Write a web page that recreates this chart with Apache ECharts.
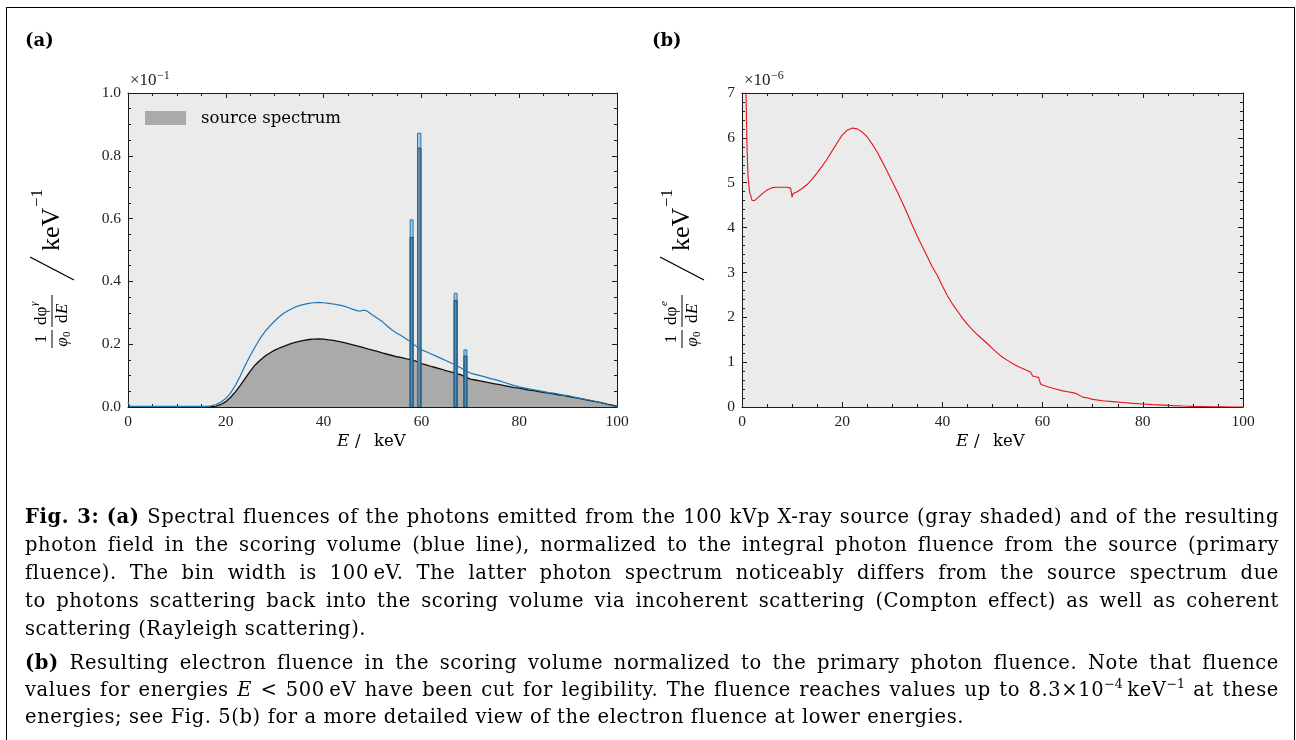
<!DOCTYPE html>
<html><head><meta charset="utf-8">
<script src="https://cdn.jsdelivr.net/npm/echarts@6/dist/echarts.min.js"></script>
<style>
html,body{margin:0;padding:0;background:#fff;}
#wrap{position:relative;width:1296px;height:740px;overflow:hidden;background:#fff;}
#chart{position:absolute;left:0;top:0;width:1296px;height:740px;}
#frame{position:absolute;left:6px;top:7px;width:1289px;height:800px;border:1.5px solid #000;box-sizing:border-box;pointer-events:none;}
#cap{position:absolute;left:25px;top:0;width:1254px;height:740px;font-family:'DejaVu Serif',serif;font-size:19.5px;letter-spacing:0.6px;color:#000;}
.ln{position:absolute;left:0;width:1254px;text-align:justify;text-align-last:justify;line-height:28px;height:28px;white-space:normal;}
.ln.last{text-align-last:left;}
.ln sup{font-size:12.5px;vertical-align:0;position:relative;top:-8px;letter-spacing:0;}
</style>
</head><body>
<div id="wrap">
<div id="chart"></div>
<div id="frame"></div>
<div id="cap">
<div class="ln" style="top:503px"><b>Fig. 3:</b> <b>(a)</b> Spectral fluences of the photons emitted from the 100 kVp X-ray source (gray shaded) and of the resulting</div>
<div class="ln" style="top:531px">photon field in the scoring volume (blue line), normalized to the integral photon fluence from the source (primary</div>
<div class="ln" style="top:559px">fluence). The bin width is 100&#8201;eV. The latter photon spectrum noticeably differs from the source spectrum due</div>
<div class="ln" style="top:587px">to photons scattering back into the scoring volume via incoherent scattering (Compton effect) as well as coherent</div>
<div class="ln last" style="top:615px">scattering (Rayleigh scattering).</div>
<div class="ln" style="top:649px"><b>(b)</b> Resulting electron fluence in the scoring volume normalized to the primary photon fluence. Note that fluence</div>
<div class="ln" style="top:676px">values for energies <i>E</i> &lt; 500&#8201;eV have been cut for legibility. The fluence reaches values up to 8.3×10<sup>−4</sup>&#8201;keV<sup>−1</sup> at these</div>
<div class="ln last" style="top:703px">energies; see Fig. 5(b) for a more detailed view of the electron fluence at lower energies.</div>
</div>
</div>
<script>
// ---------- DATA ----------
// Panel (a): values in units of 1e-1 keV^-1
const srcEnergy = [0,16,17,18,19,20,21,22,23,24,25,26,27,28,29,30,31,32,33,34,35,36,37,38,39,40,41,42,43,44,45,46,47,48,49,50,51,52,53,54,55,56,57,58,59,60,61,62,63,64,65,66,67,68,69,70,71,72,73,74,75,76,77,78,79,80,81,82,83,84,85,86,87,88,89,90,91,92,93,94,95,96,97,98,99,100];
const srcFluence = [0,0,0.001,0.003,0.008,0.017,0.031,0.049,0.070,0.092,0.114,0.134,0.149,0.162,0.172,0.181,0.188,0.194,0.200,0.205,0.209,0.212,0.215,0.216,0.217,0.216,0.214,0.212,0.209,0.206,0.202,0.198,0.194,0.190,0.185,0.181,0.177,0.172,0.168,0.164,0.160,0.157,0.153,0.150,0.145,0.138,0.134,0.129,0.125,0.121,0.116,0.112,0.107,0.103,0.096,0.089,0.086,0.083,0.080,0.077,0.074,0.071,0.068,0.065,0.062,0.060,0.057,0.054,0.052,0.049,0.047,0.044,0.042,0.039,0.037,0.034,0.031,0.028,0.025,0.022,0.019,0.016,0.013,0.009,0.006,0.002];
const scoreEnergy = [0,0.4,16,17,18,19,20,21,22,23,24,25,26,27,28,29,30,31,32,33,34,35,36,37,38,39,40,41,42,43,44,45,46,47,47.5,48,48.5,49,50,51,52,53,54,55,56,57,58,59,60,61,62,63,64,65,66,67,68,69,70,71,72,73,74,75,76,77,78,79,80,81,82,83,84,85,86,87,88,89,90,91,92,93,94,95,96,97,98,99,100];
const scoreFluence = [0.015,0.002,0.002,0.004,0.008,0.016,0.027,0.045,0.070,0.100,0.134,0.164,0.192,0.218,0.240,0.258,0.274,0.288,0.300,0.309,0.317,0.323,0.327,0.330,0.332,0.333,0.332,0.330,0.328,0.325,0.322,0.317,0.311,0.306,0.305,0.308,0.308,0.304,0.293,0.283,0.272,0.258,0.245,0.235,0.226,0.216,0.205,0.193,0.182,0.176,0.169,0.162,0.155,0.148,0.141,0.134,0.125,0.116,0.108,0.104,0.100,0.096,0.091,0.087,0.083,0.078,0.073,0.068,0.064,0.061,0.058,0.055,0.052,0.049,0.046,0.044,0.041,0.038,0.036,0.032,0.029,0.026,0.023,0.020,0.016,0.012,0.008,0.004,0.0];
// characteristic lines (bin edges in keV, heights in 1e-1 keV^-1)
const peakLow = [57.7,59.2,66.7,68.7];
const peakHigh = [58.3,59.9,67.3,69.3];
const srcPeakTop = [0.540,0.824,0.339,0.162];
const scorePeakTop = [0.596,0.872,0.362,0.182];
// Panel (b): values in units of 1e-6 keV^-1
const elecEnergy = [0.5,0.8,0.9,1.0,1.2,1.5,2,2.5,3,4,5,6,7,8,9,9.7,9.9,10.0,10.2,11,12,13,14,15,16,17,18,19,20,21,22,23,24,25,26,27,28,29,30,31,32,33,34,35,36,37,38,39,40,41,42,43,44,45,46,47,48,49,50,51,52,53,54,55,56,57,57.6,58.0,58.8,59.2,59.6,60,61,62,63,64,65,66,66.7,67,68,69,70,72,74,76,78,80,82,84,86,88,90,92,94,96,98,100];
const elecFluence = [7.8,7.0,6.4,5.8,5.15,4.8,4.61,4.60,4.65,4.75,4.84,4.89,4.90,4.90,4.90,4.88,4.84,4.68,4.76,4.80,4.87,4.96,5.08,5.22,5.37,5.53,5.71,5.89,6.06,6.17,6.22,6.20,6.13,6.02,5.86,5.68,5.47,5.25,5.02,4.80,4.56,4.31,4.05,3.80,3.58,3.35,3.12,2.93,2.70,2.48,2.30,2.14,1.98,1.84,1.72,1.61,1.51,1.41,1.30,1.20,1.11,1.04,0.97,0.91,0.86,0.81,0.78,0.69,0.67,0.66,0.51,0.49,0.45,0.42,0.39,0.36,0.34,0.32,0.30,0.26,0.22,0.20,0.17,0.14,0.12,0.10,0.08,0.066,0.052,0.041,0.031,0.022,0.015,0.010,0.006,0.003,0.001,0];
const xTicks = [0,20,40,60,80,100];

// ---------- CHART ----------
const SERIF = "'Liberation Serif','DejaVu Serif',serif";
const WIDE = "'DejaVu Serif',serif";
const INK = '#1a1a1a';
const chart = echarts.init(document.getElementById('chart'), null, {renderer:'canvas'});

function xAx(g, pos, lab){
  return {type:'value', gridIndex:g, position:pos, min:xTicks[0], max:xTicks[xTicks.length-1], interval:20,
    axisLine:{show:true,onZero:false,lineStyle:{color:INK,width:1}},
    axisTick:{show:true,inside:true,length:5,lineStyle:{color:INK,width:1}},
    minorTick:{show:true,splitNumber:4,length:3,lineStyle:{color:INK,width:1}},
    splitLine:{show:false}, minorSplitLine:{show:false},
    axisLabel:{show:lab,margin:7,fontSize:15.5,fontFamily:SERIF,color:'#222'}};
}
function yAx(g, pos, lab, max, interval, minorSplit, digits){
  return {type:'value', gridIndex:g, position:pos, min:0, max:max, interval:interval,
    axisLine:{show:true,onZero:false,lineStyle:{color:INK,width:1}},
    axisTick:{show:true,inside:true,length:5,lineStyle:{color:INK,width:1}},
    minorTick:{show:true,splitNumber:minorSplit,length:3,lineStyle:{color:INK,width:1}},
    splitLine:{show:false}, minorSplitLine:{show:false},
    axisLabel:{show:lab,margin:7,fontSize:15.5,fontFamily:SERIF,color:'#222',
      formatter:v=>v.toFixed(digits)}};
}
function peakSeries(lo, hi, top, fill, stroke, z){
  return {type:'custom', xAxisIndex:0, yAxisIndex:0, z:z, clip:true, animation:false,
    data: lo.map((l,i)=>[l, hi[i], top[i]]),
    encode:{x:[0,1], y:2},
    renderItem:(params, api)=>{
      const p0 = api.coord([api.value(0), api.value(2)]);
      const p1 = api.coord([api.value(1), 0]);
      return {type:'rect', shape:{x:p0[0], y:p0[1], width:p1[0]-p0[0], height:p1[1]-p0[1]},
        style:{fill:fill, stroke:stroke, lineWidth:1}};
    }};
}
function T(x,y,text,o){
  o=o||{};
  return {type:'text', x:x, y:y, silent:true, style:{text:text, fontSize:o.size||16, fontFamily:o.font||SERIF,
    fontStyle:o.italic?'italic':'normal', fontWeight:o.bold?'bold':'normal',
    fill:o.color||'#000', textAlign:o.align||'left', textVerticalAlign:o.va||'middle',
    align:o.align||'left', verticalAlign:o.va||'middle'}};
}
function yLabel(cx, cy, supSym){
  return {type:'group', x:cx, y:cy, rotation:Math.PI/2, silent:true, children:[
    T(-67,-2,'1',{size:17,align:'center',va:'bottom'}),
    {type:'line', shape:{x1:-76,y1:0,x2:-58,y2:0}, style:{stroke:'#000',lineWidth:1}},
    T(-70,2,'φ',{size:17,align:'center',va:'top',italic:true}),
    T(-65,10,'0',{size:11,align:'left',va:'top'}),
    T(-53,-2,'dφ',{size:17,align:'left',va:'bottom'}),
    T(-34,-12,supSym,{size:11,align:'left',va:'bottom',italic:true}),
    {type:'line', shape:{x1:-55,y1:0,x2:-23,y2:0}, style:{stroke:'#000',lineWidth:1}},
    T(-51,2,'d',{size:17,align:'left',va:'top'}),
    T(-42,2,'E',{size:17,align:'left',va:'top',italic:true}),
    {type:'line', shape:{x1:-8,y1:22,x2:15,y2:-22}, style:{stroke:'#000',lineWidth:1.4}},
    T(21,0,'keV',{size:26,align:'left',va:'middle'}),
    T(65,-6,'−1',{size:17,align:'left',va:'bottom'})
  ]};
}
function xTitle(x0, y){
  return [
    T(x0,y,'E',{size:17,italic:true,font:WIDE}),
    T(x0+18,y,'/',{size:16.5,font:WIDE}),
    T(x0+37,y,'keV',{size:16.5,font:WIDE})
  ];
}

const option = {
  animation:false,
  backgroundColor:'transparent',
  grid:[
    {left:128, top:93, width:489, height:314, show:true, backgroundColor:'#ebebeb', borderWidth:0},
    {left:742, top:93, width:501, height:314, show:true, backgroundColor:'#ebebeb', borderWidth:0}
  ],
  xAxis:[ xAx(0,'bottom',true), xAx(0,'top',false), xAx(1,'bottom',true), xAx(1,'top',false) ],
  yAxis:[ yAx(0,'left',true,1,0.2,4,1), yAx(0,'right',false,1,0.2,4,1),
          yAx(1,'left',true,7,1,5,0), yAx(1,'right',false,7,1,5,0) ],
  series:[
    {name:'source spectrum', type:'line', xAxisIndex:0, yAxisIndex:0, z:2,
      data: srcEnergy.map((e,i)=>[e, srcFluence[i]]), showSymbol:false, symbol:'none',
      lineStyle:{color:'#111', width:1.3}, areaStyle:{color:'#aaaaaa', opacity:1}},
    peakSeries(peakLow, peakHigh, srcPeakTop, '#8c8c8c', '#111', 3),
    {name:'scoring volume', type:'line', xAxisIndex:0, yAxisIndex:0, z:4,
      data: scoreEnergy.map((e,i)=>[e, scoreFluence[i]]), showSymbol:false, symbol:'none',
      lineStyle:{color:'#1f77b4', width:1.2}},
    peakSeries(peakLow, peakHigh, scorePeakTop, 'rgba(31,119,180,0.33)', '#1f77b4', 5),
    {name:'electron fluence', type:'line', xAxisIndex:2, yAxisIndex:2, z:2, clip:true,
      data: elecEnergy.map((e,i)=>[e, elecFluence[i]]), showSymbol:false, symbol:'none',
      lineStyle:{color:'#e3161b', width:1.1}}
  ],
  graphic:[
    T(25,41,'(a)',{size:18,bold:true,font:WIDE}),
    T(652,41,'(b)',{size:18,bold:true,font:WIDE}),
    T(130,89,'×10',{size:17,va:'bottom',color:'#222'}),
    T(157,82,'−1',{size:12,va:'bottom',color:'#222'}),
    T(744,89,'×10',{size:17,va:'bottom',color:'#222'}),
    T(771,82,'−6',{size:12,va:'bottom',color:'#222'}),
    {type:'rect', shape:{x:145,y:111,width:41,height:14}, style:{fill:'#aaaaaa'}, silent:true},
    T(201,119,'source spectrum',{size:16.5,font:WIDE}),
    ...xTitle(337,442),
    ...xTitle(956,442),
    yLabel(52,272,'γ'),
    yLabel(682,272,'e')
  ]
};
chart.setOption(option);
</script>
</body></html>
